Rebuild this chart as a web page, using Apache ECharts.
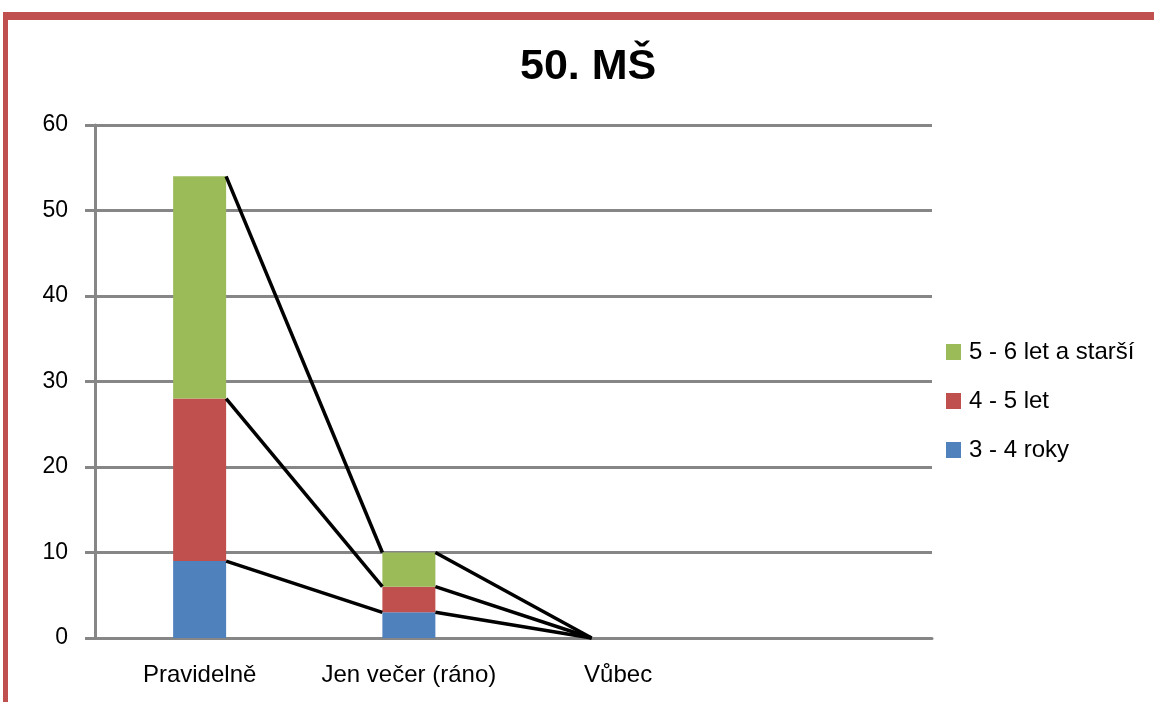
<!DOCTYPE html>
<html>
<head>
<meta charset="utf-8">
<title>50. MŠ</title>
<script src="https://cdn.jsdelivr.net/npm/echarts@6/dist/echarts.min.js"></script>
<style>
  html, body { margin: 0; padding: 0; background: #ffffff; }
  #chart { width: 1154px; height: 702px; }
</style>
</head>
<body>
<div id="chart"></div>
<script>
// Categories (the last slot is an empty category in the source table)
const categories = ['Pravidelně', 'Jen večer (ráno)', 'Vůbec', ''];

// Stacked values per age group
const age3to4 = [9, 3, 0, null];
const age4to5 = [19, 3, 0, null];
const age5to6 = [26, 4, 0, null];

const seriesNames = ['3 - 4 roky', '4 - 5 let', '5 - 6 let a starší'];
const seriesColors = ['#4F81BD', '#C0504D', '#9BBB59'];
const stackValues = [age3to4, age4to5, age5to6];

// Y-axis ticks
const yTicks = [0, 10, 20, 30, 40, 50, 60];

const BAR_WIDTH = 53;
const FONT = '"Liberation Sans", Arial, sans-serif';

// Pairs of neighbouring categories that both have data get series lines
const linePairs = [];
for (let i = 0; i < categories.length - 1; i++) {
  if (age3to4[i] != null && age3to4[i + 1] != null) linePairs.push([i]);
}

function cumulative(idx) {
  let sum = 0;
  return stackValues.map(arr => (sum += (arr[idx] || 0)));
}

const chart = echarts.init(document.getElementById('chart'), null, { renderer: 'canvas' });

const barSeries = stackValues.map((arr, k) => ({
  name: seriesNames[k],
  type: 'bar',
  stack: 'total',
  barWidth: BAR_WIDTH,
  itemStyle: { color: seriesColors[k] },
  data: arr,
  z: 2
}));

const option = {
  animation: false,
  backgroundColor: '#ffffff',
  title: {
    text: '50. MŠ',
    left: 515,
    top: 41,
    textStyle: { fontFamily: FONT, fontSize: 43, fontWeight: 'bold', color: '#000000' }
  },
  legend: {
    orient: 'vertical',
    left: 946,
    top: 340,
    padding: 0,
    itemWidth: 15,
    itemHeight: 16,
    itemGap: 25,
    icon: 'rect',
    data: ['5 - 6 let a starší', '4 - 5 let', '3 - 4 roky'],
    textStyle: { fontFamily: FONT, fontSize: 24, lineHeight: 24, color: '#000000', padding: [0, 0, 0, 3] }
  },
  grid: { left: 95, right: 222, top: 125, bottom: 64, containLabel: false },
  xAxis: {
    type: 'category',
    data: categories,
    axisLine: { show: true, lineStyle: { color: '#868686', width: 3 } },
    axisTick: { show: false },
    axisLabel: { interval: 0, hideOverlap: false, fontFamily: FONT, fontSize: 24, color: '#000000', margin: 25 },
    splitLine: { show: false }
  },
  yAxis: {
    type: 'value',
    min: yTicks[0],
    max: yTicks[yTicks.length - 1],
    interval: 10,
    axisLine: { show: true, lineStyle: { color: '#868686', width: 3 } },
    axisTick: { show: true, length: 10, lineStyle: { color: '#868686', width: 3 } },
    axisLabel: { fontFamily: FONT, fontSize: 23, color: '#000000', margin: 27 },
    splitLine: { show: true, lineStyle: { color: '#868686', width: 3 } }
  },
  series: barSeries.concat([{
    type: 'custom',
    name: 'series-lines',
    coordinateSystem: 'cartesian2d',
    silent: true,
    z: 3,
    data: linePairs,
    encode: { x: 0 },
    renderItem: function (params, api) {
      const i = api.value(0);
      const a = cumulative(i);
      const b = cumulative(i + 1);
      const children = a.map((v, k) => {
        const p1 = api.coord([i, v]);
        const p2 = api.coord([i + 1, b[k]]);
        return {
          type: 'line',
          shape: { x1: p1[0] + BAR_WIDTH / 2, y1: p1[1], x2: p2[0] - BAR_WIDTH / 2, y2: p2[1] },
          style: { stroke: '#000000', lineWidth: 3.5 }
        };
      });
      return { type: 'group', children: children };
    }
  }]),
  graphic: [
    { type: 'rect', shape: { x: 3, y: 12, width: 1151, height: 8 }, style: { fill: '#C0504D' }, silent: true },
    { type: 'rect', shape: { x: 3, y: 12, width: 5, height: 690 }, style: { fill: '#C0504D' }, silent: true }
  ]
};

chart.setOption(option);
</script>
</body>
</html>
